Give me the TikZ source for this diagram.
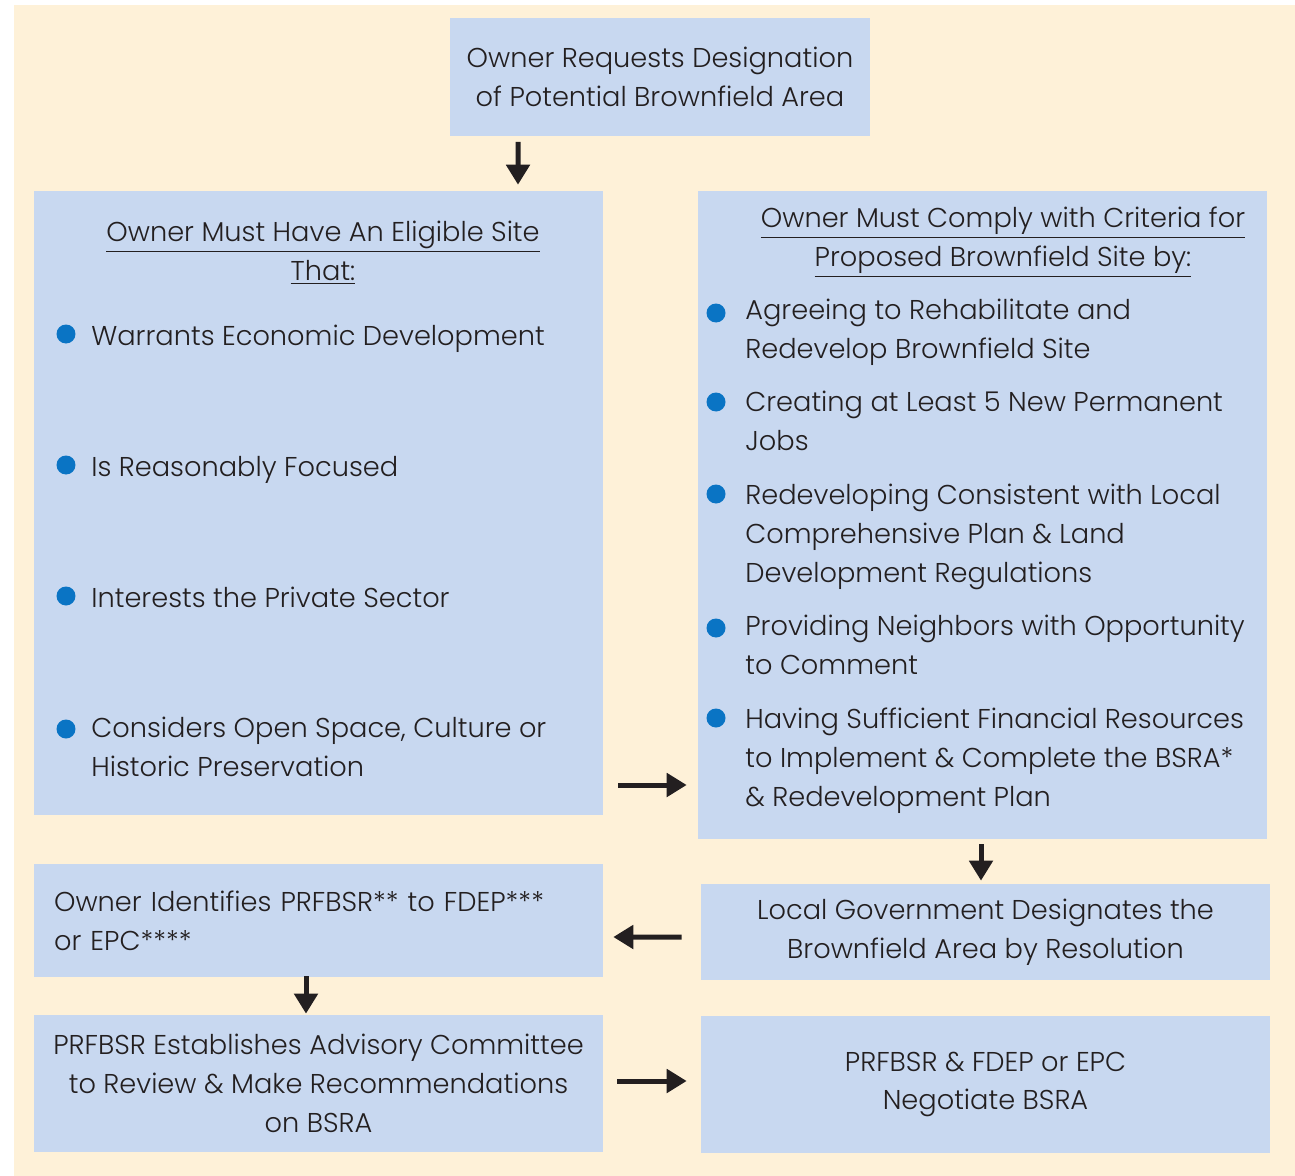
\documentclass[tikz,border=0pt]{standalone}
\usepackage{fontspec}
\setmainfont{Poppins Light}
\usepackage{xcolor}
\usetikzlibrary{positioning,arrows.meta}
\definecolor{cream}{HTML}{FEF1D8}
\definecolor{boxblue}{HTML}{C8D8F0}
\definecolor{dotblue}{HTML}{0A74C4}
\definecolor{ink}{HTML}{231F20}
\tikzset{
  box/.style={fill=boxblue, inner sep=0pt, minimum width=11.38cm, text=ink},
  txt/.style={text=ink, inner sep=0pt, align=left},
  dot/.style={circle, fill=dotblue, inner sep=0pt, minimum size=0.38cm},
  arr/.style={ink, line width=1mm, -{Triangle[length=4mm,width=4.6mm]}},
}
\newcommand{\hd}{\fontsize{15.5}{22.1}\selectfont}
\begin{document}
\begin{tikzpicture}[x=0.02cm,y=-0.02cm,font=\hd]
\useasboundingbox (0,0) rectangle (1295,1176);
\fill[cream] (14,5) rectangle (1295,1176);
% boxes
\node(top)   [box, minimum width=8.4cm, minimum height=2.38cm, align=center] at (660,77)
  {Owner Requests Designation\\of Potential Brownfield Area};
\node(elig)  [box, minimum height=12.48cm] at (318.5,503) {};
\node(comply)[box, minimum height=12.96cm] at (982.5,515) {};
\node(ident) [box, minimum height=2.26cm, text width=10.58cm, align=left] at (318.5,920.5)
  {Owner Identifies PRFBSR** to FDEP***\\or EPC****};
\node(local) [box, minimum height=1.92cm, align=center] at (985.5,932)
  {Local Government Designates the\\Brownfield Area by Resolution};
\node(advis) [box, minimum height=2.74cm, align=center] at (318.5,1083.5)
  {PRFBSR Establishes Advisory Committee\\to Review \& Make Recommendations\\on BSRA};
\node(negot) [box, minimum height=2.74cm, align=center] at (985.5,1084.5)
  {PRFBSR \& FDEP or EPC\\Negotiate BSRA};
% left list
\node(eh) [txt, align=center] at (323,253)
  {\underline{Owner Must Have An Eligible Site}\\\underline{That:}};
\node(e1) [txt, anchor=base west] at (91,345) {Warrants Economic Development};
\node(e2) [txt, anchor=base west] at (91,476) {Is Reasonably Focused};
\node(e3) [txt, anchor=base west] at (91,607) {Interests the Private Sector};
\node(e4) [txt, anchor=north west] at (91,717)
  {Considers Open Space, Culture or\\Historic Preservation};
\foreach \n/\y in {1/334,2/465,3/596,4/729} \node[dot] (f\n) at (66,\y) {};
% right list
\node(ch) [txt, align=center] at (1003,242)
  {\underline{Owner Must Comply with Criteria for}\\\underline{Proposed Brownfield Site by:}};
\node(c1) [txt, anchor=north west] at (745,299)
  {Agreeing to Rehabilitate and\\Redevelop Brownfield Site};
\node(c2) [txt, anchor=north west] at (745,391)
  {Creating at Least 5 New Permanent\\Jobs};
\node(c3) [txt, anchor=north west] at (745,484)
  {Redeveloping Consistent with Local\\Comprehensive Plan \& Land\\Development Regulations};
\node(c4) [txt, anchor=north west] at (745,615)
  {Providing Neighbors with Opportunity\\to Comment};
\node(c5) [txt, anchor=north west] at (745,708)
  {Having Sufficient Financial Resources\\to Implement \& Complete the BSRA*\\\& Redevelopment Plan};
\foreach \n/\y in {1/313,2/402,3/494,4/628,5/718} \node[dot] (d\n) at (716,\y) {};
% arrows
\draw[arr] ([shift={(-142,5)}]top.south) -- ([shift={(199.5,-6)}]elig.north);
\draw[arr] ([shift={(15,282)}]elig.east) -- ([shift={(-11,270)}]comply.west);
\draw[arr] ([shift={(-1.5,5)}]comply.south) -- ([shift={(-4.5,-3)}]local.north);
\draw[arr] ([shift={(-19,5)}]local.west) -- ([shift={(10,16.5)}]ident.east);
\draw[arr] ([shift={(-12.5,-1)}]ident.south) -- ([shift={(-12.5,-1)}]advis.north);
\draw[arr] ([shift={(14,-2.5)}]advis.east) -- ([shift={(-14,-3.5)}]negot.west);
\end{tikzpicture}
\end{document}
